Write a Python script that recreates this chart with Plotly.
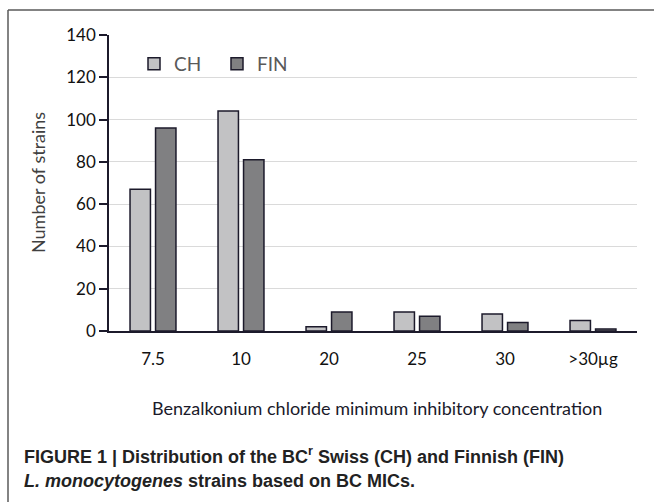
import plotly.graph_objects as go

categories = ["7.5", "10", "20", "25", "30", ">30µg"]
ch_values = [67, 104, 2, 9, 8, 5]
fin_values = [96, 81, 9, 7, 4, 1]
y_ticks = [0, 20, 40, 60, 80, 100, 120, 140]

W, H = 654, 502
L, R, T, B = 109, 17, 35, 171
PW, PH = W - L - R, H - T - B


def px(x):
    return (x - L) / PW


def py(y):
    return (H - B - y) / PH


edge = "#1c1a2b"
fig = go.Figure()
fig.add_trace(go.Bar(x=categories, y=ch_values, name="CH",
                     marker=dict(color="#c2c2c4", line=dict(color=edge, width=1.5))))
fig.add_trace(go.Bar(x=categories, y=fin_values, name="FIN",
                     marker=dict(color="#808082", line=dict(color=edge, width=1.5))))

tickfont = dict(family="Lato, Open Sans, sans-serif", size=17, color="#111111")
fig.update_layout(
    width=W, height=H,
    margin=dict(l=L, r=R, t=T, b=B),
    paper_bgcolor="white", plot_bgcolor="white",
    barmode="group", bargap=0.42, bargroupgap=0.2,
    showlegend=True,
    legend=dict(orientation="h", x=px(134), y=py(64), xanchor="left", yanchor="middle",
                font=dict(family="Lato, Open Sans, sans-serif", size=19, color="#595959"),
                entrywidth=38, entrywidthmode="pixels", bgcolor="rgba(0,0,0,0)"),
    xaxis=dict(showline=True, linecolor=edge, linewidth=1.5, showgrid=False,
               ticks="outside", ticklen=12, tickcolor="rgba(0,0,0,0)",
               tickfont=tickfont, fixedrange=True),
    yaxis=dict(range=[0, 140], tickvals=y_ticks, showline=True, linecolor=edge, linewidth=1.5,
               showgrid=True, gridcolor="#dadada", gridwidth=1.2,
               ticks="outside", ticklen=8, tickcolor=edge, tickwidth=1.5,
               tickfont=tickfont, zeroline=False, fixedrange=True),
)

fig.add_annotation(text="Number of strains", xref="paper", yref="paper",
                   x=px(38), y=py(183), textangle=-90, showarrow=False,
                   xanchor="center", yanchor="middle",
                   font=dict(family="Lato, Open Sans, sans-serif", size=18, color="#404040"))
fig.add_annotation(text="Benzalkonium chloride minimum inhibitory concentration",
                   xref="paper", yref="paper", x=px(377), y=py(408), showarrow=False,
                   xanchor="center", yanchor="middle",
                   font=dict(family="Lato, Open Sans, sans-serif", size=18, color="#1a1a2a"))

capfont = dict(family="Liberation Sans Narrow, Arial Narrow, Liberation Sans, sans-serif",
               size=18, color="#222222")
fig.add_annotation(text="<b>FIGURE 1 | Distribution of the BC<sup>r</sup> Swiss (CH) and Finnish (FIN)</b>",
                   xref="paper", yref="paper", x=px(22), y=py(455), xanchor="left",
                   yanchor="middle", showarrow=False, font=capfont)
fig.add_annotation(text="<b><i>L. monocytogenes</i> strains based on BC MICs.</b>",
                   xref="paper", yref="paper", x=px(22), y=py(481), xanchor="left",
                   yanchor="middle", showarrow=False, font=capfont)

fig.add_shape(type="line", xref="paper", yref="paper", x0=px(8), x1=px(654), y0=py(10), y1=py(10),
              line=dict(color="#5a5a5a", width=1.5))
fig.add_shape(type="line", xref="paper", yref="paper", x0=px(8), x1=px(8), y0=py(10), y1=py(502),
              line=dict(color="#5a5a5a", width=1.5))

fig.write_html("out.html", config={"displayModeBar": False},
               post_script="document.body.style.margin='0';")
